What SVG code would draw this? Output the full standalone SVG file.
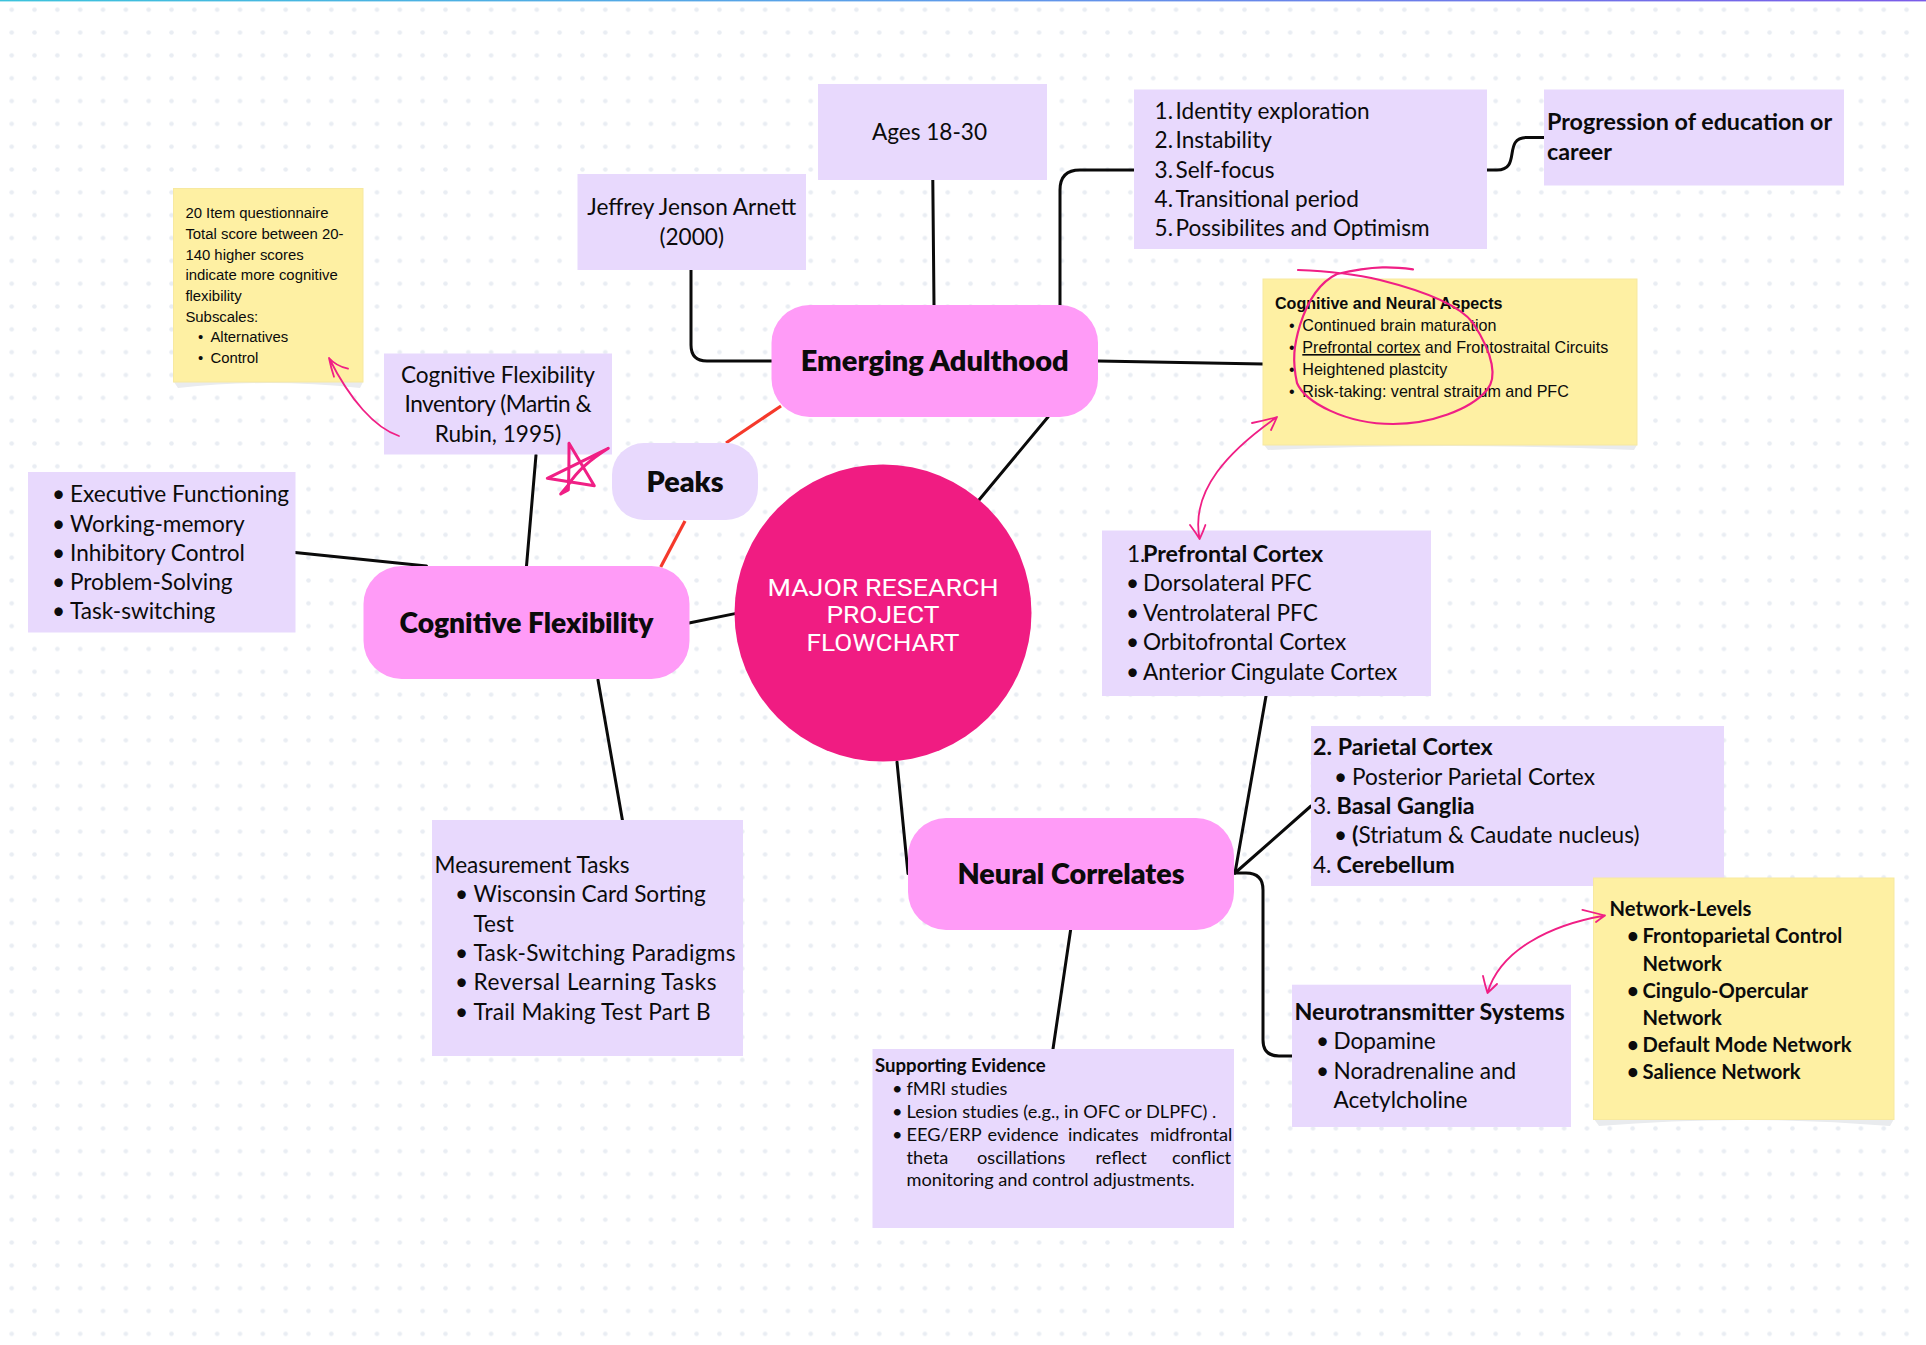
<svg xmlns="http://www.w3.org/2000/svg" width="1926" height="1345" viewBox="0 0 1926 1345">
<defs>
<pattern id="dots" x="0.3" y="-1.7" width="22.83" height="22.83" patternUnits="userSpaceOnUse"><circle cx="11.4" cy="11.4" r="2.3" fill="#e9edf3"/></pattern>
<linearGradient id="top" x1="0" x2="1" y1="0" y2="0"><stop offset="0" stop-color="#3cc3dc"/><stop offset="0.5" stop-color="#5f9bea"/><stop offset="1" stop-color="#7a5be8"/></linearGradient>
</defs>
<style>
.lav{fill:#e8d9fd}.pink{fill:#ff9bf7}.yel{fill:#fef0a3;stroke:#f7e9a0;stroke-width:1}.shadow{fill:#e9ebee}
text{font-family:"Lato","Noto Sans",sans-serif;fill:#0b0b0b}
.t{font-size:22.6px}.b{font-weight:700;font-size:23.3px}
.h{font-size:29px;font-weight:800;text-anchor:middle}
.m{text-anchor:middle}.e{text-anchor:end}
.s{font-family:"Liberation Sans",Arial,sans-serif;font-size:14.9px}
.s2{font-family:"Liberation Sans",Arial,sans-serif;font-size:16.1px}
.s2.b{font-size:16.1px}
.sup{font-size:18.2px}.sup.b{font-size:18.6px}
.net{font-size:20.2px;font-weight:700}
.c{font-family:"Roboto",sans-serif;font-size:23.5px;fill:#fff;text-anchor:middle;font-weight:400}
.k{fill:none;stroke:#0a0a0a;stroke-width:3;stroke-linecap:round;stroke-linejoin:round}
.r{fill:none;stroke:#f5392b;stroke-width:3.2}
.a{fill:none;stroke:#f01f85;stroke-width:1.8;stroke-linecap:round;stroke-linejoin:round}
</style>
<rect width="1926" height="1345" fill="#fff"/>
<rect x="0" y="0" width="1918" height="1340" fill="url(#dots)"/>
<rect x="0" y="0" width="1926" height="1.4" fill="url(#top)"/>

<g id="connectors">
<path class="k" d="M691 270V345Q691 361 707 361H772"/>
<path class="r" d="M726 443L781 406"/>
<path class="r" d="M685 521L660.7 567"/>
<path class="k" d="M536 455L526.5 566"/>
<path class="k" d="M295 552.6L426.5 566"/>
<path class="k" d="M689 623L735 613.6"/>
<path class="k" d="M598 680L622.4 820"/>
<path class="k" d="M932.8 180L934 305"/>
<path class="k" d="M1060 305V190Q1060 170 1080 170H1134"/>
<path class="k" d="M1487 170H1497C1522 170 1502 137.4 1527 137.4H1544"/>
<path class="k" d="M1098 361L1263 364"/>
<path class="k" d="M1048 417L979 500"/>
<path class="k" d="M1266 696L1235 873"/>
<path class="k" d="M1311 806L1235 873"/>
<path class="k" d="M1234 873H1246Q1263 873 1263 890V1040Q1263 1056 1279 1056H1292"/>
<path class="k" d="M897 762L908 873.6"/>
<path class="k" d="M1070.6 930L1053 1049"/>
</g>

<g id="node-center"><circle cx="883" cy="613" r="148.5" fill="#f01c82"/>
<text class="c" x="883" y="595.5" textLength="231" lengthAdjust="spacingAndGlyphs">MAJOR RESEARCH</text>
<text class="c" x="883" y="623" textLength="113" lengthAdjust="spacingAndGlyphs">PROJECT</text>
<text class="c" x="883" y="650.5" textLength="153" lengthAdjust="spacingAndGlyphs">FLOWCHART</text></g>

<g id="node-emerging"><rect class="pink" x="771.5" y="305" width="326.5" height="112" rx="38"/><text class="h" x="934.7" y="371" textLength="268" lengthAdjust="spacingAndGlyphs">Emerging Adulthood</text></g>
<g id="node-cognitive"><rect class="pink" x="363.5" y="566" width="326" height="113" rx="38"/><text class="h" x="526.5" y="633" textLength="254" lengthAdjust="spacingAndGlyphs">Cognitive Flexibility</text></g>
<g id="node-neural"><rect class="pink" x="908" y="818" width="326" height="112" rx="38"/><text class="h" x="1071" y="884" textLength="227" lengthAdjust="spacingAndGlyphs">Neural Correlates</text></g>
<g id="node-peaks"><rect class="lav" x="612" y="443" width="146" height="77" rx="32"/><text class="h" x="685" y="492" textLength="77" lengthAdjust="spacingAndGlyphs">Peaks</text></g>

<g id="node-jeffrey"><rect class="lav" x="577.5" y="174" width="228.5" height="96"/>
<text class="t m" x="691.7" y="215">Jeffrey Jenson Arnett</text><text class="t m" x="691.7" y="245">(2000)</text></g>
<g id="node-ages"><rect class="lav" x="818" y="84" width="229" height="96"/><text class="t m" x="929.5" y="140">Ages 18-30</text></g>
<g id="node-list"><rect class="lav" x="1134" y="89.5" width="353" height="159.5"/>
<text class="t e" x="1173" y="119">1.</text><text class="t" x="1175.5" y="119">Identity exploration</text>
<text class="t e" x="1173" y="148">2.</text><text class="t" x="1175.5" y="148">Instability</text>
<text class="t e" x="1173" y="177.5">3.</text><text class="t" x="1175.5" y="177.5">Self-focus</text>
<text class="t e" x="1173" y="207">4.</text><text class="t" x="1175.5" y="207">Transitional period</text>
<text class="t e" x="1173" y="236">5.</text><text class="t" x="1175.5" y="236">Possibilites and Optimism</text></g>
<g id="node-progression"><rect class="lav" x="1544" y="89.5" width="300" height="96"/>
<text class="t b" x="1547" y="130">Progression of education or</text><text class="t b" x="1547" y="159.5">career</text></g>

<g id="node-sticky-aspects"><path class="shadow" d="M1264 445L1268 450Q1450 442 1634 450L1637 445Z"/><rect class="yel" x="1263" y="279" width="374" height="166"/>
<text class="s2 b" x="1275" y="309">Cognitive and Neural Aspects</text>
<text class="s2" x="1289" y="331">•</text><text class="s2" x="1302.3" y="331">Continued brain maturation</text>
<text class="s2" x="1289" y="353">•</text><text class="s2" x="1302.3" y="353"><tspan text-decoration="underline">Prefrontal cortex</tspan> and Frontostraital Circuits</text>
<text class="s2" x="1289" y="375">•</text><text class="s2" x="1302.3" y="375">Heightened plastcity</text>
<text class="s2" x="1289" y="397">•</text><text class="s2" x="1302.3" y="397">Risk-taking: ventral straitum and PFC</text></g>

<g id="node-sticky-questionnaire"><path class="shadow" d="M174 382L178 388Q268 378 360 388L363 382Z"/><rect class="yel" x="173.5" y="188.5" width="189.5" height="193.5"/>
<text class="s" x="185.4" y="218">20 Item questionnaire</text>
<text class="s" x="185.4" y="239">Total score between 20-</text>
<text class="s" x="185.4" y="260">140 higher scores</text>
<text class="s" x="185.4" y="280">indicate more cognitive</text>
<text class="s" x="185.4" y="301">flexibility</text>
<text class="s" x="185.4" y="322">Subscales:</text>
<text class="s" x="198" y="342">•</text><text class="s" x="210.4" y="342">Alternatives</text>
<text class="s" x="198" y="363">•</text><text class="s" x="210.4" y="363">Control</text></g>

<g id="node-inventory"><rect class="lav" x="384" y="353.5" width="228" height="101"/>
<text class="t m" x="498" y="383" textLength="194">Cognitive Flexibility</text><text class="t m" x="498" y="412" textLength="187">Inventory (Martin &amp;</text><text class="t m" x="498" y="441.5">Rubin, 1995)</text></g>

<g id="node-executive"><rect class="lav" x="28" y="472" width="267.5" height="160.5"/>
<text class="t" x="52" y="502">•</text><text class="t" x="70" y="502">Executive Functioning</text>
<text class="t" x="52" y="531.5">•</text><text class="t" x="70" y="531.5">Working-memory</text>
<text class="t" x="52" y="561">•</text><text class="t" x="70" y="561">Inhibitory Control</text>
<text class="t" x="52" y="590">•</text><text class="t" x="70" y="590">Problem-Solving</text>
<text class="t" x="52" y="619">•</text><text class="t" x="70" y="619">Task-switching</text></g>

<g id="node-measurement"><rect class="lav" x="432" y="820" width="311" height="236"/>
<text class="t" x="434.5" y="873">Measurement Tasks</text>
<text class="t" x="455" y="902">•</text><text class="t" x="473.5" y="902">Wisconsin Card Sorting</text>
<text class="t" x="473.5" y="931.7">Test</text>
<text class="t" x="455" y="961">•</text><text class="t" x="473.5" y="961" textLength="262">Task-Switching Paradigms</text>
<text class="t" x="455" y="990">•</text><text class="t" x="473.5" y="990" textLength="243">Reversal Learning Tasks</text>
<text class="t" x="455" y="1020">•</text><text class="t" x="473.5" y="1020" textLength="237">Trail Making Test Part B</text></g>

<g id="node-prefrontal"><rect class="lav" x="1102" y="530.5" width="329" height="165.5"/>
<text class="t" x="1127" y="562">1.</text><text class="t b" x="1143" y="562">Prefrontal Cortex</text>
<text class="t" x="1126" y="591">•</text><text class="t" x="1143" y="591">Dorsolateral PFC</text>
<text class="t" x="1126" y="621">•</text><text class="t" x="1143" y="621">Ventrolateral PFC</text>
<text class="t" x="1126" y="650">•</text><text class="t" x="1143" y="650">Orbitofrontal Cortex</text>
<text class="t" x="1126" y="679.5">•</text><text class="t" x="1143" y="679.5">Anterior Cingulate Cortex</text></g>

<g id="node-parietal"><rect class="lav" x="1311" y="726" width="413" height="160"/>
<text class="t b" x="1313" y="755">2. Parietal Cortex</text>
<text class="t" x="1334" y="784.5">•</text><text class="t" x="1352" y="784.5">Posterior Parietal Cortex</text>
<text class="t" x="1313" y="813.5">3.</text><text class="t b" x="1336.5" y="813.5">Basal Ganglia</text>
<text class="t" x="1334" y="843">•</text><text class="t" x="1352" y="843"><tspan class="b">(</tspan>Striatum &amp; Caudate nucleus)</text>
<text class="t" x="1313" y="872.5">4.</text><text class="t b" x="1336.5" y="872.5">Cerebellum</text></g>

<g id="node-neurotransmitter"><rect class="lav" x="1292" y="984.7" width="279" height="142.3"/>
<text class="t b" x="1294.5" y="1020">Neurotransmitter Systems</text>
<text class="t" x="1316" y="1049">•</text><text class="t" x="1333.5" y="1049">Dopamine</text>
<text class="t" x="1316" y="1078.5">•</text><text class="t" x="1333.5" y="1078.5">Noradrenaline and</text>
<text class="t" x="1333.5" y="1108">Acetylcholine</text></g>

<g id="node-sticky-network"><path class="shadow" d="M1594 1119L1599 1126Q1745 1114 1890 1126L1894 1119Z"/><rect class="yel" x="1593.5" y="878" width="300.5" height="241.5"/>
<text class="net" x="1609.5" y="916">Network-Levels</text>
<text class="net" x="1627" y="943">•</text><text class="net" x="1642.5" y="943">Frontoparietal Control</text>
<text class="net" x="1642.5" y="970.5">Network</text>
<text class="net" x="1627" y="997.6">•</text><text class="net" x="1642.5" y="997.6">Cingulo-Opercular</text>
<text class="net" x="1642.5" y="1024.8">Network</text>
<text class="net" x="1627" y="1051.5">•</text><text class="net" x="1642.5" y="1051.5">Default Mode Network</text>
<text class="net" x="1627" y="1078.7">•</text><text class="net" x="1642.5" y="1078.7">Salience Network</text></g>

<g id="node-evidence"><rect class="lav" x="872.5" y="1049" width="361.5" height="179"/>
<text class="sup b" x="875" y="1072">Supporting Evidence</text>
<text class="sup" x="892" y="1095">•</text><text class="sup" x="906.5" y="1095">fMRI studies</text>
<text class="sup" x="892" y="1118">•</text><text class="sup" x="906.5" y="1118">Lesion studies (e.g., in OFC or DLPFC) .</text>
<text class="sup" x="892" y="1141">•</text><text class="sup" y="1141"><tspan x="906.5">EEG/ERP</tspan> <tspan x="987.5">evidence</tspan> <tspan x="1068">indicates</tspan> <tspan x="1150">midfrontal</tspan></text>
<text class="sup" y="1164"><tspan x="906.5">theta</tspan> <tspan x="977">oscillations</tspan> <tspan x="1095.5">reflect</tspan> <tspan x="1172">conflict</tspan></text>
<text class="sup" x="906.5" y="1186">monitoring and control adjustments.</text></g>

<g id="annotations">
<path class="a" d="M399 436C375 428 350 400 329 358M348 368.7Q336 366 329 358Q331 368 334 376.7"/>
<path class="a" d="M1277 417C1230 450 1190 490 1199.6 539M1252 423Q1266 420 1277 417Q1274 424 1271 430M1190 525Q1196 533 1199.6 539Q1203 532 1205.4 525"/>
<path class="a" d="M1605 915.5C1550 925 1500 950 1487.5 993M1582.4 909.8Q1595 913 1605 915.5Q1600 919 1596 922M1483 976Q1485 985 1487.5 993Q1493 988 1497 984"/>
<path class="a" style="stroke-width:2.2" d="M1413 269.3C1395 267 1375 265 1337 274C1320 282 1308 300 1300 325C1294 345 1292 360 1297 383C1305 402 1345 424 1393 424C1430 424 1470 410 1487 390C1497 378 1494 355 1473 323C1458 303 1420 290 1380 280C1355 274 1325 271 1298 270"/>
<path class="a" style="stroke-width:3" d="M569 443.3C569 460 569 475 568.3 490L560.7 494M569 443.3L594.3 485.7L547.3 478.3L608.3 448.3C590 460 578 470 568.3 485L560.7 494"/>
</g>
</svg>
